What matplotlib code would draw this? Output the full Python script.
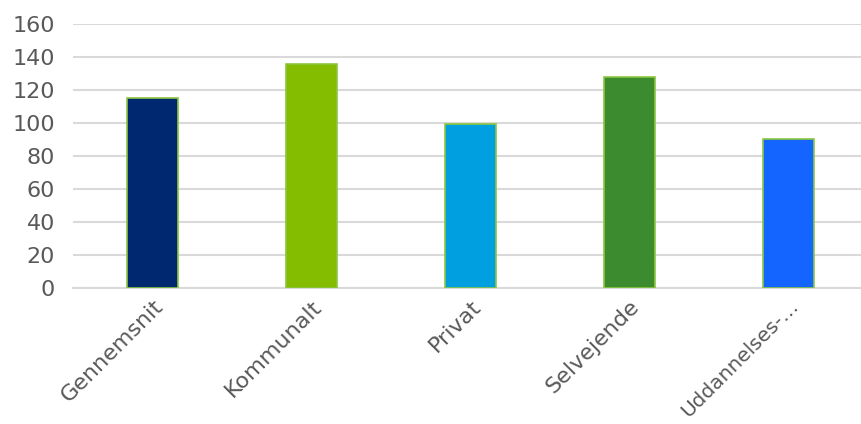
import matplotlib.pyplot as plt

categories = ['Gennemsnit', 'Kommunalt', 'Privat', 'Selvejende', 'Uddannelses-…']
values = [115.5, 136, 99.5, 128, 90.5]
colors = ['#002870', '#84bd00', '#009fdf', '#3d8b2f', '#1464ff']

fig = plt.figure(figsize=(8.61, 4.24), dpi=100)
# axes run slightly past the right edge, like the original
ax = fig.add_axes([0.085, 0.321, 0.923, 0.622])

x = range(len(categories))
ax.bar(x, values, width=0.32, color=colors, edgecolor='#8cc63f', linewidth=1.2, zorder=3)

ax.set_ylim(0, 160)
ax.set_yticks(range(0, 161, 20))
ax.set_xlim(-0.5, len(categories) - 0.5)
ax.yaxis.grid(True, color='#d9d9d9', linewidth=1.5, zorder=0)
for s in ['top', 'right', 'left']:
    ax.spines[s].set_visible(False)
ax.spines['bottom'].set_color('#d9d9d9')
ax.spines['bottom'].set_linewidth(1.5)

ax.set_xticks(list(x))
ax.set_xticklabels(categories, rotation=45, ha='right', rotation_mode='anchor')
ax.tick_params(axis='both', length=0, labelsize=16, labelcolor='#595959')
ax.tick_params(axis='y', pad=13)
ax.tick_params(axis='x', pad=6)
# the truncated last label is a bit tighter in the original, keep it inside the figure
ax.get_xticklabels()[-1].set_fontsize(14.5)

fig.savefig('out.png')
